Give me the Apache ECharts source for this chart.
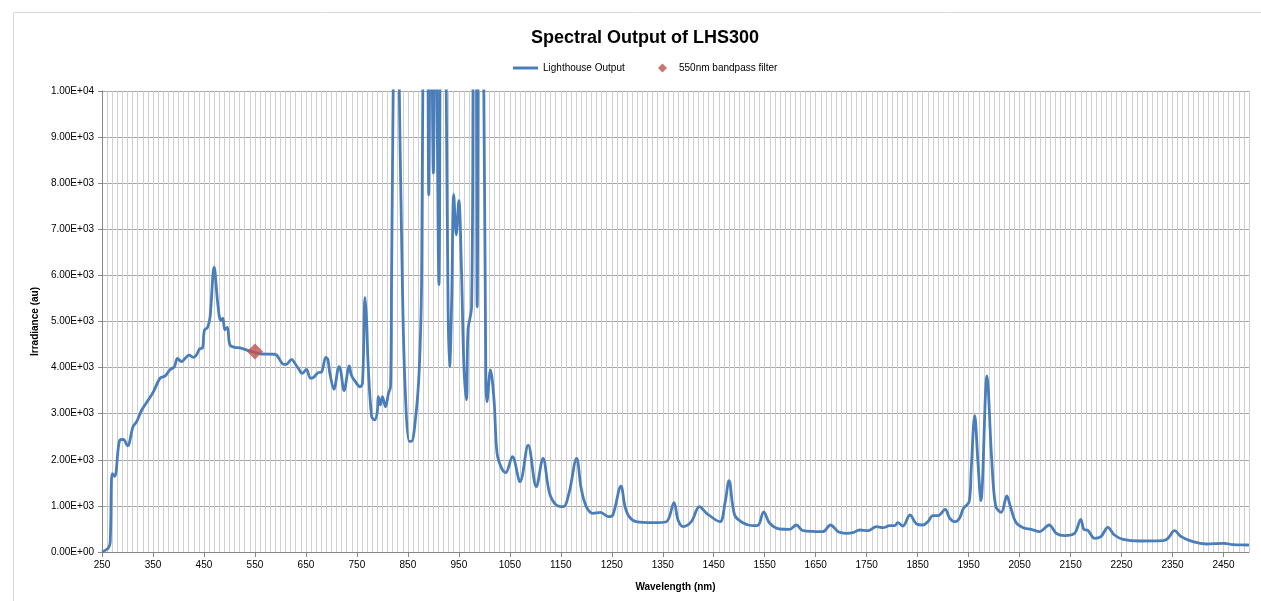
<!DOCTYPE html>
<html>
<head>
<meta charset="utf-8">
<script src="https://cdn.jsdelivr.net/npm/echarts@6/dist/echarts.min.js"></script>
<style>
  html, body { margin: 0; padding: 0; background: #fff; }
  #chart { width: 1261px; height: 601px; }
</style>
</head>
<body>
<div id="chart"></div>
<script>
// wavelength (nm) and irradiance (au)
var wavelengths = [
  250, 262, 266, 270, 275, 285, 292, 300, 311, 318, 328, 341, 351, 364, 374, 383, 392, 398,
  406, 413, 421, 429, 435, 442, 447, 451, 457, 462, 470, 477, 483, 487, 491, 496,
  501, 511, 521, 534, 550, 563, 589, 607, 613, 622, 628, 635, 643, 651, 659, 665,
  674, 681, 689, 693, 697, 705, 715, 718, 725, 735, 739, 747, 756, 761, 766, 769,
  772, 779, 785, 790, 792, 796, 800, 806, 812, 816, 818, 822, 827, 832, 838, 844,
  853, 857, 864, 872, 877, 880, 887, 891, 895, 900, 904, 911, 916, 922, 925, 929,
  932, 936, 940, 945, 950, 955, 960, 965, 968, 975, 979, 983, 986, 990, 995, 999,
  1003, 1005, 1012, 1019, 1025, 1034, 1042, 1055, 1070, 1086, 1102, 1115, 1128, 1141,
  1155, 1166, 1181, 1190, 1200, 1213, 1228, 1243, 1252, 1268, 1276, 1284, 1298, 1331,
  1357, 1372, 1380, 1390, 1406, 1422, 1436, 1462, 1472, 1480, 1491, 1507, 1527, 1537,
  1548, 1560, 1579, 1599, 1612, 1625, 1664, 1679, 1694, 1710, 1723, 1736, 1753, 1769,
  1782, 1795, 1805, 1811, 1821, 1835, 1848, 1860, 1870, 1880, 1890, 1904, 1913, 1924,
  1932, 1940, 1951, 1955, 1962, 1968, 1974, 1986, 1995, 2003, 2014, 2025, 2032, 2043,
  2057, 2073, 2089, 2108, 2122, 2138, 2158, 2170, 2176, 2184, 2197, 2210, 2223, 2236,
  2253, 2285, 2331, 2341, 2354, 2367, 2390, 2416, 2452, 2468, 2497, 2500
];
var irradiance = [
  0, 80, 200, 1700, 1640, 2430, 2440, 2300, 2720, 2830, 3080, 3300, 3480, 3770, 3820, 3950, 4020, 4200,
  4130, 4200, 4270, 4220, 4270, 4410, 4420, 4815, 4870, 5100, 6180, 5400, 5020, 5070, 4820, 4870,
  4490, 4440, 4430, 4380, 4330, 4295, 4290, 4070, 4080, 4180, 4100, 3985, 3875, 3960, 3770, 3790,
  3890, 3910, 4220, 4180, 3875, 3530, 4020, 3950, 3500, 4035, 3840, 3695, 3585, 3660, 5525, 5030,
  4090, 2935, 2865, 3040, 3370, 3190, 3370, 3150, 3440, 3585, 5900, 11000, 16000, 11000, 6620, 3730,
  2400, 2400, 2790, 3875, 5900, 11000, 14000, 7750, 14000, 8220, 13000, 5800, 14000, 14000, 10500, 5200,
  4020, 5500, 7750, 6880, 7620, 6190, 4020, 3300, 4815, 5320, 12000, 13000, 5320, 13000, 12000, 10000,
  3700, 3260, 3950, 3300, 2140, 1815, 1720, 2067, 1525, 2320, 1416, 2030, 1273, 1020,
  983, 1273, 2030, 1380, 983, 840, 860, 767, 800, 1430, 983, 767, 657, 636,
  657, 1070, 694, 550, 657, 983, 840, 657, 1056, 1547, 803, 636, 571, 580,
  868, 622, 499, 492, 586, 462, 441, 586, 441, 405, 420, 477, 462, 550,
  528, 571, 571, 636, 564, 803, 607, 586, 657, 788, 788, 926, 730, 657,
  730, 948, 1090, 1780, 2960, 2000, 1113, 3820, 2067, 1000, 860, 1215, 983, 640,
  528, 492, 441, 586, 405, 354, 405, 709, 492, 470, 297, 340, 535, 369,
  275, 239, 246, 297, 462, 333, 224, 174, 188, 159, 152, 150
];
var filterPoint = [550, 4350];

var seriesNames = ['Lighthouse Output', '550nm bandpass filter'];

var lineData = wavelengths.map(function (w, i) { return [w, irradiance[i]]; });

function sci(v) {
  if (v === 0) return '0.00E+00';
  var s = v.toExponential(2).split('e');
  var e = parseInt(s[1], 10);
  return s[0] + 'E' + (e < 0 ? '-' : '+') + (Math.abs(e) < 10 ? '0' : '') + Math.abs(e);
}

var chart = echarts.init(document.getElementById('chart'));
var font = 'Liberation Sans';
var legendText = { fontFamily: font, fontSize: 10, color: '#000' };

chart.setOption({
  animation: false,
  backgroundColor: '#ffffff',
  textStyle: { fontFamily: font },
  graphic: [{
    type: 'rect',
    shape: { x: 13.5, y: 12.5, width: 1300, height: 700 },
    style: { fill: 'none', stroke: '#d9d9d9', lineWidth: 1 },
    silent: true
  }],
  title: {
    text: 'Spectral Output of LHS300',
    left: 526,
    top: 24,
    textStyle: { fontFamily: font, fontSize: 18, fontWeight: 'bold', color: '#000' }
  },
  legend: [{
    top: 58,
    left: 508,
    itemWidth: 25,
    itemHeight: 3,
    icon: 'rect',
    textStyle: legendText,
    data: [seriesNames[0]]
  }, {
    top: 58,
    left: 653,
    itemWidth: 9,
    itemHeight: 9,
    icon: 'diamond',
    textStyle: { fontFamily: font, fontSize: 10, color: '#000', padding: [0, 0, 0, 7] },
    data: [seriesNames[1]]
  }],
  grid: { left: 102, right: 12, top: 91, bottom: 49 },
  xAxis: [{
    type: 'value',
    min: 250,
    max: 2500,
    interval: 100,
    name: 'Wavelength (nm)',
    nameLocation: 'middle',
    nameGap: 30,
    nameTextStyle: { fontFamily: font, fontSize: 10, fontWeight: 'bold', color: '#000' },
    axisLine: { show: true, lineStyle: { color: '#868686', width: 1 } },
    axisTick: { show: true, length: 5, lineStyle: { color: '#868686' } },
    axisLabel: {
      fontSize: 10, color: '#000', margin: 8, showMaxLabel: false,
      formatter: function (v) { return String(v); }
    },
    splitLine: { show: false }
  }, {
    type: 'value',
    min: 250,
    max: 2500,
    interval: 10,
    position: 'bottom',
    axisLine: { show: false },
    axisTick: { show: false },
    axisLabel: { show: false },
    splitLine: { show: true, lineStyle: { color: '#cfcfcf', width: 1 } }
  }],
  yAxis: {
    type: 'value',
    min: 0,
    max: 10000,
    interval: 1000,
    name: 'Irradiance (au)',
    nameLocation: 'middle',
    nameGap: 62,
    nameTextStyle: { fontFamily: font, fontSize: 10, fontWeight: 'bold', color: '#000' },
    axisLine: { show: true, lineStyle: { color: '#868686', width: 1 } },
    axisTick: { show: true, length: 4, lineStyle: { color: '#868686' } },
    axisLabel: { fontSize: 10, color: '#000', margin: 8, formatter: sci },
    splitLine: { show: true, lineStyle: { color: '#a6a6a6', width: 1 } }
  },
  series: [{
    name: seriesNames[0],
    type: 'line',
    xAxisIndex: 0,
    data: lineData,
    smooth: 0.35,
    showSymbol: false,
    symbol: 'none',
    clip: true,
    lineStyle: { color: '#4a7ebb', width: 2.8 },
    itemStyle: { color: '#4a7ebb' },
    z: 3
  }, {
    name: seriesNames[1],
    type: 'scatter',
    xAxisIndex: 0,
    data: [filterPoint],
    symbol: 'diamond',
    symbolSize: 16,
    itemStyle: { color: '#c0504d' },
    z: 4
  }]
});
</script>
</body>
</html>
